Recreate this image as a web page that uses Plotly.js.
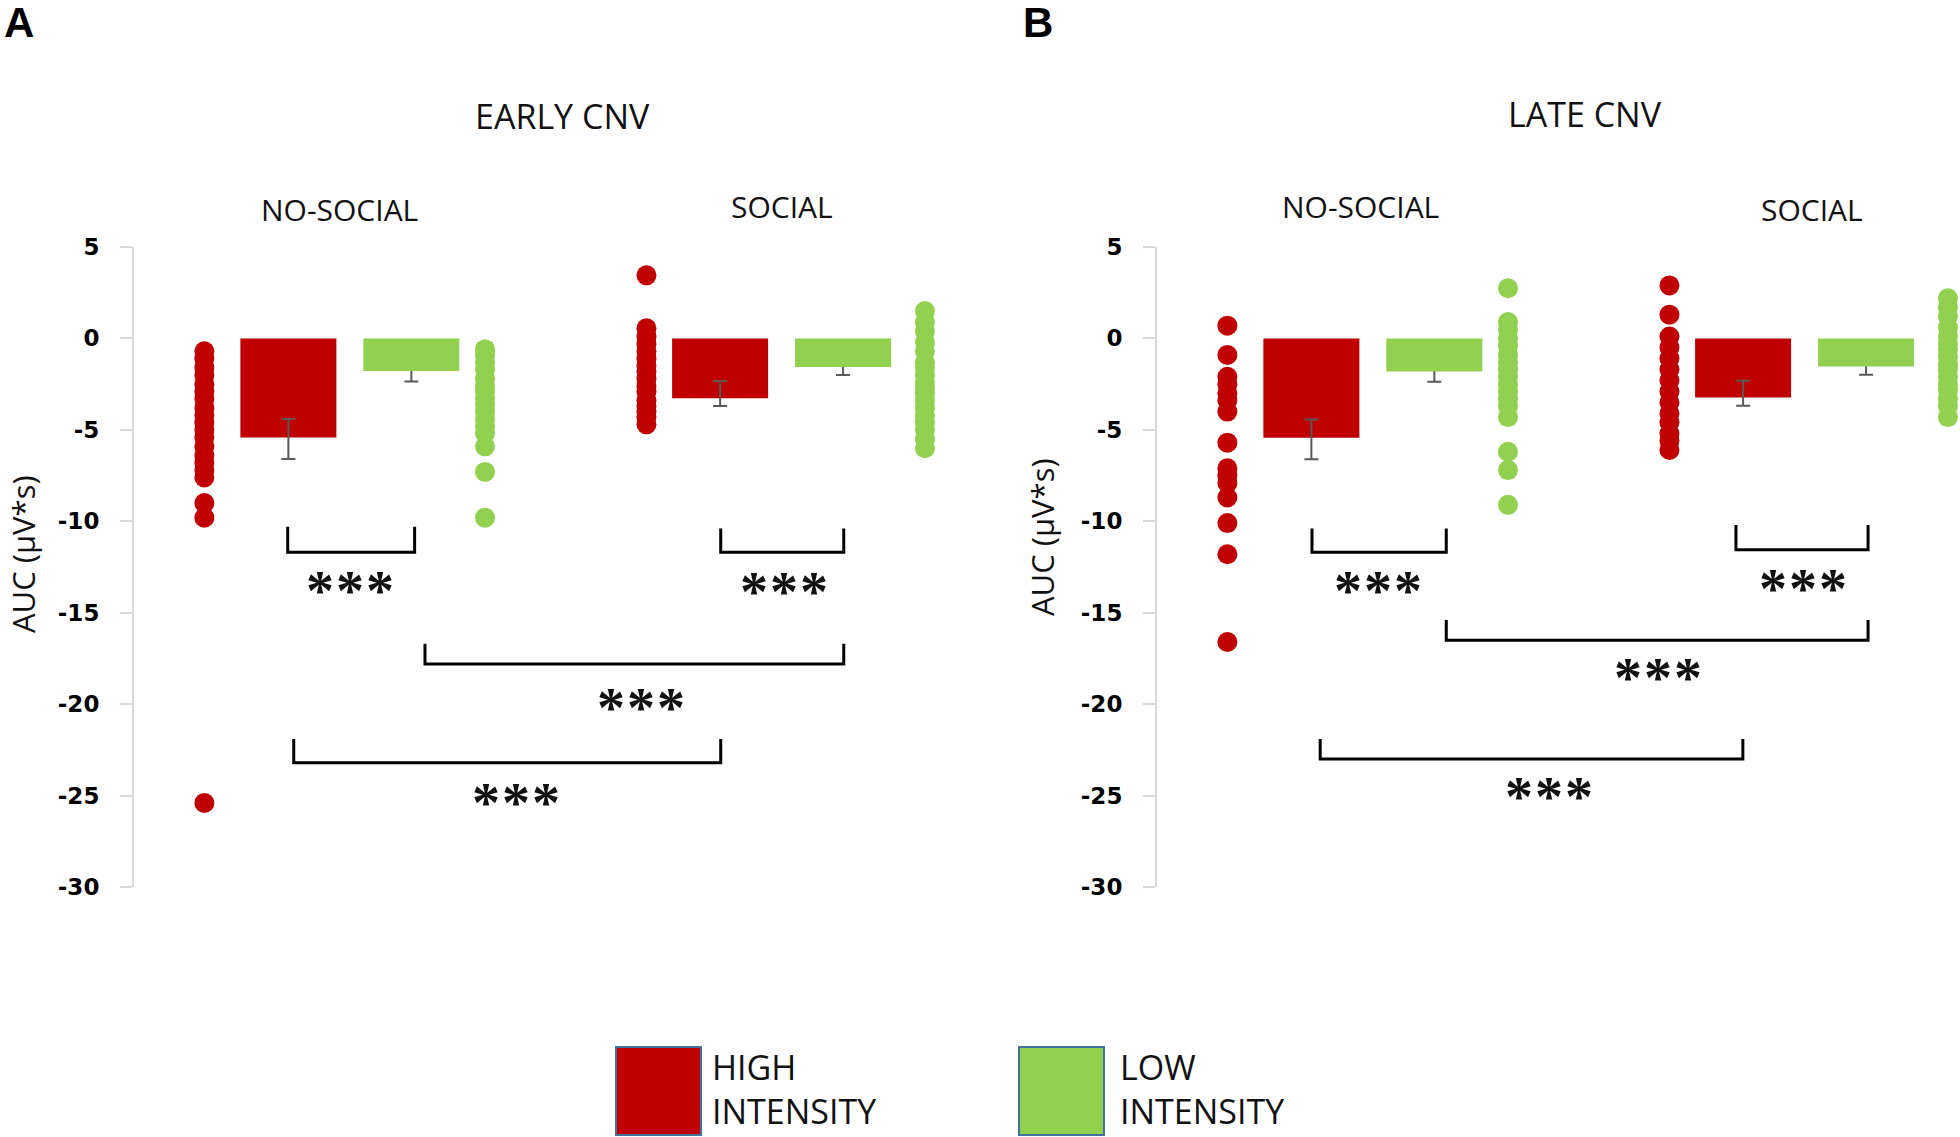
<!DOCTYPE html>
<html><head><meta charset="utf-8">
<script src="https://cdn.plot.ly/plotly-3.0.1.min.js"></script>
<style>html,body{margin:0;padding:0;background:#fff}#chart{width:1960px;height:1137px}</style>
</head><body><div id="chart"></div>
<script>
// ---------- DATA ----------
const conditions = ['NO-SOCIAL', 'SOCIAL'];
const panelTitles = ['EARLY CNV', 'LATE CNV'];
const panelLetters = ['A', 'B'];
const seriesNames = ['HIGH<br>INTENSITY', 'LOW<br>INTENSITY'];
const yTickVals = [5, 0, -5, -10, -15, -20, -25, -30];
const yTickText = ['5', '0', '-5', '-10', '-15', '-20', '-25', '-30'];
const yAxisTitle = 'AUC (µV*s)';
const sigLabel = '***';

// mean AUC (bars): [NO-SOCIAL, SOCIAL]
const earlyHigh = [-5.42, -3.27];
const earlyLow = [-1.78, -1.56];
const lateHigh = [-5.43, -3.23];
const lateLow = [-1.81, -1.54];

// error bars (upper / lower extent)
const earlyHighErrUp = [1.02, 0.94];
const earlyHighErrDown = [1.18, 0.42];
const earlyLowErr = [0.58, 0.44];
const lateHighErrUp = [1.00, 0.91];
const lateHighErrDown = [1.18, 0.45];
const lateLowErr = [0.56, 0.44];

// individual participants
const earlyHighNoSocial = [-0.7, -1.1, -1.6, -2.0, -2.5, -2.9, -3.3, -3.8, -4.2, -4.6, -5.0, -5.4, -5.9, -6.4, -6.8, -7.2, -7.6, -9.0, -9.8, -25.4];
const earlyLowNoSocial = [-0.6, -0.6, -0.9, -1.3, -1.7, -2.2, -2.6, -2.9, -3.3, -3.6, -4.0, -4.4, -4.8, -5.2, -5.9, -7.3, -9.8];
const earlyHighSocial = [3.45, 0.55, 0.1, -0.3, -0.7, -1.1, -1.5, -1.8, -2.2, -2.6, -2.9, -3.4, -3.7, -4.0, -4.3, -4.7];
const earlyLowSocial = [1.5, 0.9, 0.4, -0.2, -0.7, -1.3, -1.6, -2.0, -2.4, -2.7, -3.0, -3.4, -3.8, -4.2, -4.6, -5.0, -5.5, -6.0];
const lateHighNoSocial = [0.7, -0.9, -2.1, -2.5, -3.0, -3.4, -4.0, -5.7, -7.1, -7.5, -7.9, -8.7, -10.1, -11.8, -16.6];
const lateLowNoSocial = [2.75, 0.9, 0.5, 0.0, -0.4, -0.9, -1.3, -1.7, -2.1, -2.5, -2.9, -3.3, -3.7, -4.3, -6.2, -7.2, -9.1];
const lateHighSocial = [2.9, 1.3, 0.1, -0.5, -1.1, -1.7, -2.3, -2.9, -3.5, -4.1, -4.6, -5.2, -5.6, -6.1];
const lateLowSocial = [2.2, 1.7, 1.2, 0.6, 0.1, -0.3, -0.6, -1.0, -1.4, -1.7, -2.1, -2.5, -2.8, -3.3, -3.7, -4.3];

// ---------- STYLE / GEOMETRY ----------
const RED = '#C00000', GREEN = '#92D050', ERR = '#595959';
const BAR_OFF = 0.1424, BAR_W = 0.2224;
const DOT_OFF = { hiNS: -0.337, loNS: 0.313, hiS: -0.313, loS: 0.332 };
const TXT = 'Open Sans, Noto Sans, sans-serif';

const panels = [
  { ax: '', high: earlyHigh, low: earlyLow, up: earlyHighErrUp, down: earlyHighErrDown, lowErr: earlyLowErr,
    dots: [earlyHighNoSocial, earlyLowNoSocial, earlyHighSocial, earlyLowSocial] },
  { ax: '2', high: lateHigh, low: lateLow, up: lateHighErrUp, down: lateHighErrDown, lowErr: lateLowErr,
    dots: [lateHighNoSocial, lateLowNoSocial, lateHighSocial, lateLowSocial] }
];

const xi = conditions.map((c, i) => i);
const traces = [];
panels.forEach(p => {
  const xa = 'x' + p.ax, ya = 'y' + p.ax;
  traces.push({ type: 'bar', xaxis: xa, yaxis: ya, x: xi.map(i => i - BAR_OFF), y: p.high, width: BAR_W,
    marker: { color: RED }, hoverinfo: 'skip',
    error_y: { type: 'data', symmetric: false, array: p.up, arrayminus: p.down, color: ERR, thickness: 2, width: 7 } });
  traces.push({ type: 'bar', xaxis: xa, yaxis: ya, x: xi.map(i => i + BAR_OFF), y: p.low, width: BAR_W,
    marker: { color: 'rgba(0,0,0,0)' }, hoverinfo: 'skip',
    error_y: { type: 'data', symmetric: true, array: p.lowErr, color: ERR, thickness: 2, width: 7 } });
  traces.push({ type: 'bar', xaxis: xa, yaxis: ya, x: xi.map(i => i + BAR_OFF), y: p.low, width: BAR_W,
    marker: { color: GREEN }, hoverinfo: 'skip' });
  const cols = [[0, DOT_OFF.hiNS, RED], [0, DOT_OFF.loNS, GREEN], [1, DOT_OFF.hiS, RED], [1, DOT_OFF.loS, GREEN]];
  cols.forEach((c, k) => {
    const vals = p.dots[k];
    traces.push({ type: 'scatter', mode: 'markers', xaxis: xa, yaxis: ya, cliponaxis: false,
      x: vals.map(() => c[0] + c[1]), y: vals, marker: { size: 20, color: c[2], line: { width: 0 } }, hoverinfo: 'skip' });
  });
});

// significance brackets: [axis, x1, x2, yTop, yBottom, xLabel, yLabel]
const brackets = [
  [['', -0.144, 0.150, -10.3, -11.7, 0.002, -13.3],
   ['', 0.859, 1.144, -10.4, -11.7, 1.008, -13.4],
   ['', 0.174, 1.144, -16.7, -17.8, 0.676, -19.7],
   ['', -0.130, 0.859, -21.9, -23.2, 0.387, -24.9]],
  [['2', -0.141, 0.170, -10.4, -11.7, 0.015, -13.3],
   ['2', 0.841, 1.147, -10.2, -11.55, 0.999, -13.2],
   ['2', 0.170, 1.147, -15.4, -16.5, 0.663, -18.1],
   ['2', -0.122, 0.857, -21.9, -23.0, 0.411, -24.6]]
];
const shapes = [], annotations = [];
brackets.flat().forEach(b => {
  const [ax, x1, x2, yt, yb, xl, yl] = b;
  shapes.push({ type: 'path', xref: 'x' + ax, yref: 'y' + ax,
    path: `M ${x1},${yt} L ${x1},${yb} L ${x2},${yb} L ${x2},${yt}`,
    line: { color: '#000', width: 3 } });
  annotations.push({ xref: 'x' + ax, yref: 'y' + ax, x: xl, y: yl, xanchor: 'center', yanchor: 'middle', showarrow: false,
    text: '<span style="letter-spacing:2px">' + sigLabel + '</span>', yshift: -9,
    font: { family: 'Liberation Serif, serif', size: 56, color: '#111', weight: 'bold' } });
});

// panel letters & titles
const P = (px, py) => ({ x: px / 1960, y: 1 - py / 1137 });
const A = (o) => Object.assign({ xref: 'paper', yref: 'paper', xanchor: 'center', yanchor: 'middle', showarrow: false }, o);
[[panelLetters[0], 2], [panelLetters[1], 1021]].forEach(([t, px]) => {
  annotations.push(A(Object.assign({ xanchor: 'left', text: t,
    font: { family: 'Liberation Sans, Arial', size: 42, color: '#000', weight: 'bold' } }, P(px, 22))));
});
[[panelTitles[0], 562, 116], [panelTitles[1], 1585, 114]].forEach(([t, px, py]) => {
  annotations.push(A(Object.assign({ text: t, font: { family: TXT, size: 34, color: '#111' } }, P(px, py))));
});
[[conditions[0], 339, 210], [conditions[1], 782, 206], [conditions[0], 1360, 206], [conditions[1], 1812, 210]].forEach(([t, px, py]) => {
  annotations.push(A(Object.assign({ text: t, font: { family: TXT, size: 30, color: '#111' } }, P(px, py))));
});
[[23, 554], [1042, 537]].forEach(([px, py]) => {
  annotations.push(A(Object.assign({ text: yAxisTitle, textangle: -90,
    font: { family: TXT, size: 31, color: '#111' } }, P(px, py))));
});

// custom legend
[[616, RED, seriesNames[0], 710], [1019, GREEN, seriesNames[1], 1118]].forEach(([px, col, t, tx]) => {
  shapes.push({ type: 'rect', xref: 'paper', yref: 'paper', x0: px / 1960, x1: (px + 85) / 1960,
    y0: 1 - 1135 / 1137, y1: 1 - 1047 / 1137, fillcolor: col, line: { color: '#41719C', width: 2 } });
  annotations.push(A(Object.assign({ xanchor: 'left', align: 'left', text: t,
    font: { family: TXT, size: 34, color: '#111' } }, P(tx, 1089))));
});

const yax = {
  range: [-30, 5], domain: [1 - 887 / 1137, 1 - 247 / 1137], showgrid: false, zeroline: false,
  showline: true, linecolor: '#d9d9d9', linewidth: 2, ticks: 'outside', ticklen: 12, tickwidth: 2, tickcolor: '#d9d9d9',
  tickvals: yTickVals, ticktext: yTickText, ticklabelstandoff: 16,
  tickfont: { family: 'DejaVu Sans, sans-serif', size: 23, color: '#000', weight: 'bold' }, fixedrange: true
};
const xax = { range: [-0.5, 1.35], visible: false, fixedrange: true };

const layout = {
  width: 1960, height: 1137, margin: { l: 0, r: 0, t: 0, b: 0 }, paper_bgcolor: '#fff', plot_bgcolor: 'rgba(0,0,0,0)',
  showlegend: false, barmode: 'overlay', hovermode: false,
  xaxis: Object.assign({}, xax, { domain: [134 / 1960, 134 / 1960 + 0.4075], anchor: 'y' }),
  xaxis2: Object.assign({}, xax, { domain: [1157 / 1960, 1157 / 1960 + 0.4075], anchor: 'y2' }),
  yaxis: Object.assign({}, yax, { anchor: 'x' }),
  yaxis2: Object.assign({}, yax, { anchor: 'x2' }),
  shapes: shapes, annotations: annotations
};
Plotly.newPlot('chart', traces, layout, { staticPlot: true, displayModeBar: false });
</script></body></html>
